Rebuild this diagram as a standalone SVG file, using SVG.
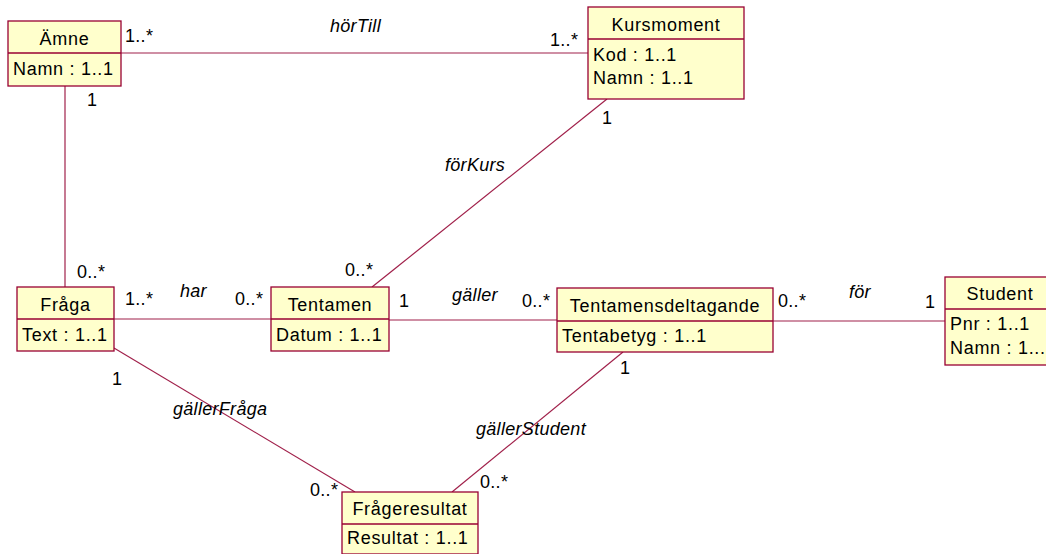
<svg xmlns="http://www.w3.org/2000/svg" width="1046" height="554" viewBox="0 0 1046 554">
<style>
.box{fill:#ffffcc;stroke:#990033;stroke-width:1.3}
.div{stroke:#990033;stroke-width:1.3}
.t{font-family:"Liberation Sans",Arial,sans-serif;font-size:18px;fill:#000;letter-spacing:0.7px}
.c{text-anchor:middle}
.i{font-style:italic;letter-spacing:0.6px}
.m{font-family:"Liberation Sans",Arial,sans-serif;font-size:18px;fill:#000;letter-spacing:0.3px}
.ln{stroke:#a0204a;stroke-width:1.2;fill:none}
</style>
<rect width="1046" height="554" fill="#fff"/>
<g id="connectors">
<line class="ln" x1="121" y1="53" x2="588" y2="53"/>
<line class="ln" x1="65" y1="86" x2="65" y2="287"/>
<line class="ln" x1="607" y1="99" x2="372" y2="287"/>
<line class="ln" x1="114" y1="319" x2="271" y2="319"/>
<line class="ln" x1="389" y1="320" x2="557" y2="320"/>
<line class="ln" x1="773" y1="321" x2="945" y2="321"/>
<line class="ln" x1="114" y1="348" x2="355" y2="492"/>
<line class="ln" x1="623" y1="352" x2="452" y2="492"/>
<text class="m i" x="330" y="32">hörTill</text>
<text class="m" x="125" y="42">1..*</text>
<text class="m" x="550" y="46">1..*</text>
<text class="m" x="87" y="106">1</text>
<text class="m" x="602" y="124">1</text>
<text class="m i" x="445" y="171">förKurs</text>
<text class="m" x="77" y="278">0..*</text>
<text class="m" x="345" y="276">0..*</text>
<text class="m" x="125" y="305">1..*</text>
<text class="m i" x="180" y="297">har</text>
<text class="m" x="235" y="305">0..*</text>
<text class="m" x="399" y="307">1</text>
<text class="m i" x="452" y="301">gäller</text>
<text class="m" x="522" y="307">0..*</text>
<text class="m" x="778" y="307">0..*</text>
<text class="m i" x="849" y="298">för</text>
<text class="m" x="925" y="308">1</text>
<text class="m" x="112" y="385">1</text>
<text class="m i" x="173" y="415">gällerFråga</text>
<text class="m" x="620" y="374">1</text>
<text class="m i" x="476" y="435">gällerStudent</text>
<text class="m" x="310" y="496">0..*</text>
<text class="m" x="480" y="488">0..*</text>
</g>
<g id="amne">
<rect class="box" x="8" y="21" width="113" height="65"/>
<line class="div" x1="8" y1="53" x2="121" y2="53"/>
<text class="t c" x="64.5" y="45">Ämne</text>
<text class="t" x="13" y="75">Namn : 1..1</text>
</g>
<g id="kursmoment">
<rect class="box" x="588" y="7" width="156" height="92"/>
<line class="div" x1="588" y1="39" x2="744" y2="39"/>
<text class="t c" x="666" y="31">Kursmoment</text>
<text class="t" x="593" y="61">Kod : 1..1</text>
<text class="t" x="593" y="84">Namn : 1..1</text>
</g>
<g id="fraga">
<rect class="box" x="17" y="287" width="97" height="64"/>
<line class="div" x1="17" y1="319" x2="114" y2="319"/>
<text class="t c" x="65.5" y="311">Fråga</text>
<text class="t" x="22" y="341">Text : 1..1</text>
</g>
<g id="tentamen">
<rect class="box" x="271" y="287" width="118" height="64"/>
<line class="div" x1="271" y1="319" x2="389" y2="319"/>
<text class="t c" x="330" y="311">Tentamen</text>
<text class="t" x="276" y="341">Datum : 1..1</text>
</g>
<g id="tentamensdeltagande">
<rect class="box" x="557" y="288" width="216" height="64"/>
<line class="div" x1="557" y1="321" x2="773" y2="321"/>
<text class="t c" x="665" y="312">Tentamensdeltagande</text>
<text class="t" x="562" y="342">Tentabetyg : 1..1</text>
</g>
<g id="student">
<rect class="box" x="945" y="277" width="110" height="88"/>
<line class="div" x1="945" y1="309" x2="1055" y2="309"/>
<text class="t c" x="1000" y="300">Student</text>
<text class="t" x="950" y="330">Pnr : 1..1</text>
<text class="t" x="950" y="354">Namn : 1...</text>
</g>
<g id="frageresultat">
<rect class="box" x="342" y="492" width="136" height="62"/>
<line class="div" x1="342" y1="524" x2="478" y2="524"/>
<text class="t c" x="410" y="515">Frågeresultat</text>
<text class="t" x="347" y="544">Resultat : 1..1</text>
</g>
</svg>
